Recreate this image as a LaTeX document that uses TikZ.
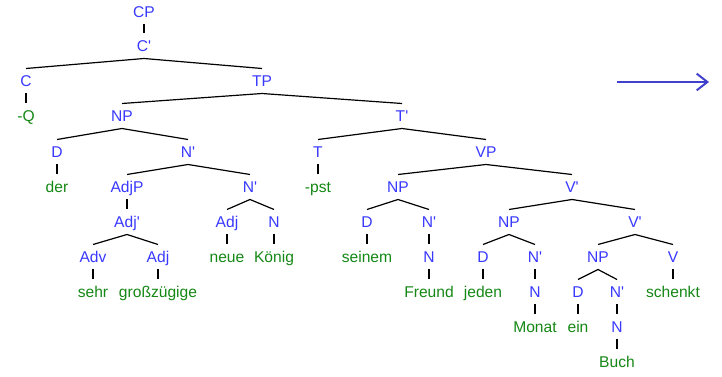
\documentclass[tikz,border=0pt]{standalone}
\usepackage{fontspec}
\setmainfont{Liberation Sans}
\usetikzlibrary{arrows.meta}
\definecolor{catblue}{RGB}{56,56,255}
\definecolor{wordgreen}{RGB}{20,135,20}
\definecolor{arrowblue}{RGB}{64,64,204}
\tikzset{every picture/.style={line width=0.75pt}}
\tikzset{
  lab/.style={font=\fontsize{11.7}{13}\selectfont, inner sep=0pt,
    text height=8.4pt, text depth=0pt, minimum height=18pt},
  cat/.style={lab, text=catblue},
  word/.style={lab, text=wordgreen},
  branch/.style={line width=0.9pt, black}
}
\newcommand{\bq}{\textquotesingle}

\begin{document}
\begin{tikzpicture}[x=0.75pt,y=-0.75pt]
    \useasboundingbox (0,0) rectangle (722,377);

    % CP und C'
    \node[cat] (CP) at (144,12) {CP};
    \node[cat] (Cbar) at (144,46) {C\bq};
    \node[cat] (C) at (26,81) {C};
    \node[cat] (TP) at (262,81) {TP};
    \node[word] (Q) at (26,116) {-Q};

    % Subjekt-NP
    \node[cat] (NPs) at (122,116) {NP};
    \node[cat] (Ds) at (57,152) {D};
    \node[word] (der) at (57,187) {der};
    \node[cat] (Nbars) at (188,152) {N\bq};
    \node[cat] (AdjP) at (127,187) {AdjP};
    \node[cat] (Adjbar) at (127,222) {Adj\bq};
    \node[cat] (Adv) at (93,257) {Adv};
    \node[word] (sehr) at (93,292) {sehr};
    \node[cat] (AdjG) at (158,257) {Adj};
    \node[word] (gross) at (158,292) {großzügige};
    \node[cat] (Nbark) at (250,187) {N\bq};
    \node[cat] (AdjN) at (227,222) {Adj};
    \node[word] (neue) at (227,257) {neue};
    \node[cat] (Nk) at (274,222) {N};
    \node[word] (koenig) at (274,257) {König};

    % T' und T
    \node[cat] (Tbar) at (402,116) {T\bq};
    \node[cat] (T) at (318,152) {T};
    \node[word] (pst) at (318,187) {-pst};
    \node[cat] (VP) at (486,152) {VP};

    % indirektes Objekt
    \node[cat] (NPf) at (398,187) {NP};
    \node[cat] (Df) at (367,222) {D};
    \node[word] (seinem) at (367,257) {seinem};
    \node[cat] (Nbarf) at (429,222) {N\bq};
    \node[cat] (Nf) at (429,257) {N};
    \node[word] (freund) at (429,292) {Freund};

    % V' mit Adverbial-NP
    \node[cat] (Vbara) at (572,187) {V\bq};
    \node[cat] (NPm) at (509,222) {NP};
    \node[cat] (Dm) at (483,257) {D};
    \node[word] (jeden) at (483,292) {jeden};
    \node[cat] (Nbarm) at (535,257) {N\bq};
    \node[cat] (Nm) at (535,292) {N};
    \node[word] (monat) at (535,327) {Monat};

    % V' mit direktem Objekt
    \node[cat] (Vbarb) at (635,222) {V\bq};
    \node[cat] (NPb) at (598,257) {NP};
    \node[cat] (Db) at (578,292) {D};
    \node[word] (ein) at (578,327) {ein};
    \node[cat] (Nbarb) at (617,292) {N\bq};
    \node[cat] (Nb) at (617,327) {N};
    \node[word] (buch) at (617,362) {Buch};
    \node[cat] (V) at (673,257) {V};
    \node[word] (schenkt) at (673,292) {schenkt};

    % Kanten
    \draw[branch] (CP.south) -- (Cbar.north);
    \draw[branch] (C.north) -- (Cbar.south) -- (TP.north);
    \draw[branch] (C.south) -- (Q.north);
    \draw[branch] (NPs.north) -- (TP.south) -- (Tbar.north);
    \draw[branch] (Ds.north) -- (NPs.south) -- (Nbars.north);
    \draw[branch] (Ds.south) -- (der.north);
    \draw[branch] (AdjP.north) -- (Nbars.south) -- (Nbark.north);
    \draw[branch] (AdjP.south) -- (Adjbar.north);
    \draw[branch] (Adv.north) -- (Adjbar.south) -- (AdjG.north);
    \draw[branch] (Adv.south) -- (sehr.north);
    \draw[branch] (AdjG.south) -- (gross.north);
    \draw[branch] (AdjN.north) -- (Nbark.south) -- (Nk.north);
    \draw[branch] (AdjN.south) -- (neue.north);
    \draw[branch] (Nk.south) -- (koenig.north);
    \draw[branch] (T.north) -- (Tbar.south) -- (VP.north);
    \draw[branch] (T.south) -- (pst.north);
    \draw[branch] (NPf.north) -- (VP.south) -- (Vbara.north);
    \draw[branch] (Df.north) -- (NPf.south) -- (Nbarf.north);
    \draw[branch] (Df.south) -- (seinem.north);
    \draw[branch] (Nbarf.south) -- (Nf.north);
    \draw[branch] (Nf.south) -- (freund.north);
    \draw[branch] (NPm.north) -- (Vbara.south) -- (Vbarb.north);
    \draw[branch] (Dm.north) -- (NPm.south) -- (Nbarm.north);
    \draw[branch] (Dm.south) -- (jeden.north);
    \draw[branch] (Nbarm.south) -- (Nm.north);
    \draw[branch] (Nm.south) -- (monat.north);
    \draw[branch] (NPb.north) -- (Vbarb.south) -- (V.north);
    \draw[branch] (Db.north) -- (NPb.south) -- (Nbarb.north);
    \draw[branch] (Db.south) -- (ein.north);
    \draw[branch] (Nbarb.south) -- (Nb.north);
    \draw[branch] (Nb.south) -- (buch.north);
    \draw[branch] (V.south) -- (schenkt.north);

    % Pfeil
    \coordinate (arrS) at (617,82);
    \coordinate (arrE) at (709,82);
    \draw[-{Straight Barb[length=8pt,width=12.5pt]}, arrowblue, line width=1.5pt] (arrS) -- (arrE);
\end{tikzpicture}
\end{document}
